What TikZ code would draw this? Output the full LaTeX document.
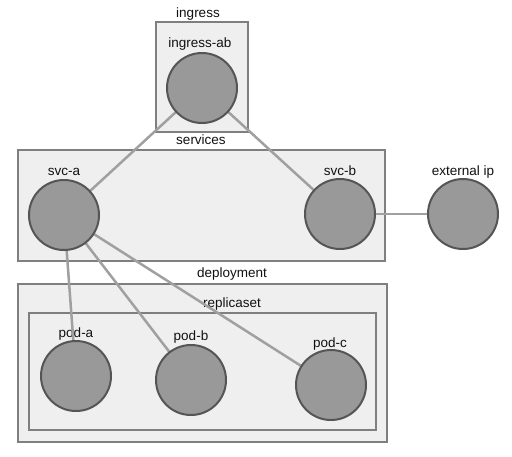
\documentclass[tikz,border=0pt]{standalone}
\usepackage{fontspec}
\setmainfont{Liberation Sans}
\begin{document}
\begin{tikzpicture}[x=1pt,y=-1pt,
  grp/.style={draw=boxline,fill=boxfill,line width=2.5pt},
  pod/.style={circle,draw=circline,fill=circfill,line width=2pt,minimum size=70pt,inner sep=0pt},
  lbl/.style={font=\fontsize{13.5}{16}\selectfont,text=txt,inner sep=0pt,anchor=base},
  link/.style={draw=linkc,line width=2.5pt}]
\definecolor{boxline}{HTML}{7F7F7F}
\definecolor{boxfill}{HTML}{EFEFEF}
\definecolor{circline}{HTML}{555555}
\definecolor{circfill}{HTML}{999999}
\definecolor{linkc}{HTML}{A0A0A0}
\definecolor{txt}{HTML}{111111}
\useasboundingbox (0,0) rectangle (512,456);
\fill[white] (0,0) rectangle (512,456);
% groups
\draw[grp] (156,22) rectangle (248,132);
\draw[grp] (18,150) rectangle (385,261);
\draw[grp] (18,284) rectangle (387,442);
\draw[grp] (29,313) rectangle (376,430);
% group labels
\node[lbl] (Lingress) at (198,17) {ingress};
\node[lbl] (Lservices) at (201,144) {services};
\node[lbl] (Ldeployment) at (232,277) {deployment};
\node[lbl] (Lreplicaset) at (232,307) {replicaset};
% node labels
\node[lbl] (Lingab) at (200,47) {ingress-ab};
\node[lbl] (Lsvca) at (64,175) {svc-a};
\node[lbl] (Lsvcb) at (340,175) {svc-b};
\node[lbl] (Lext) at (463,175) {external ip};
\node[lbl] (Lpoda) at (76,337) {pod-a};
\node[lbl] (Lpodb) at (191,340) {pod-b};
\node[lbl] (Lpodc) at (330,347) {pod-c};
% circle positions
\coordinate (cingab) at (202,88);
\coordinate (csvca) at (64,215);
\coordinate (csvcb) at (340,214);
\coordinate (cext) at (463,214);
\coordinate (cpoda) at (76,376);
\coordinate (cpodb) at (191,380);
\coordinate (cpodc) at (331,385);
% links
\draw[link] (cingab) -- (csvca);
\draw[link] (cingab) -- (csvcb);
\draw[link] (csvcb) -- (cext);
\draw[link] (csvca) -- (cpoda);
\draw[link] (csvca) -- (cpodb);
\draw[link] (csvca) -- (cpodc);
% circles
\node[pod] (ingab) at (cingab) {};
\node[pod] (svca) at (csvca) {};
\node[pod] (svcb) at (csvcb) {};
\node[pod] (ext) at (cext) {};
\node[pod] (poda) at (cpoda) {};
\node[pod] (podb) at (cpodb) {};
\node[pod] (podc) at (cpodc) {};
\end{tikzpicture}
\end{document}
